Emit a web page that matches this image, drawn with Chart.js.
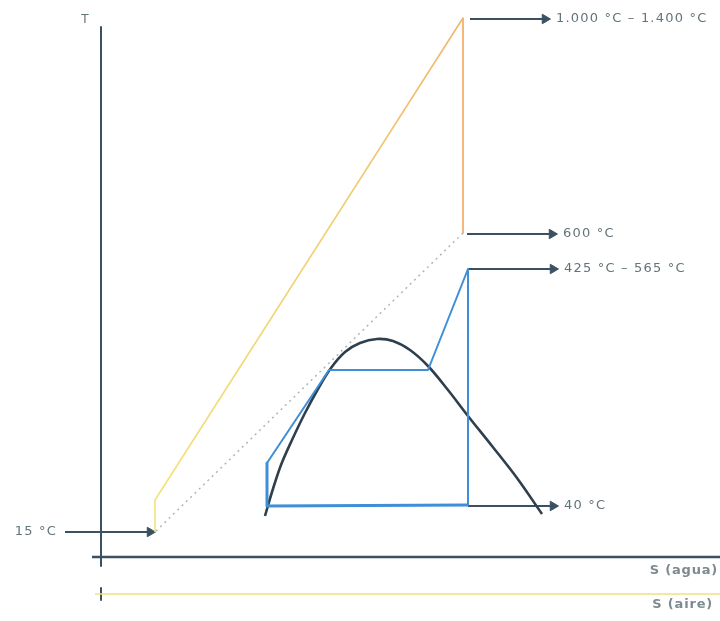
<!DOCTYPE html>
<html>
<head>
<meta charset="utf-8">
<title>Diagrama T-S ciclo combinado</title>
<script src="https://cdn.jsdelivr.net/npm/chart.js@4/dist/chart.umd.min.js"></script>
<style>
  body { margin: 0; background: #fff; }
  canvas { display: block; }
</style>
</head>
<body>
<canvas id="grafico" width="720" height="621"></canvas>
<script>
// ====== DIAGRAMA T-S (ciclo combinado gas + vapor) ======

// Ciclo de aire (Brayton): s, T
const cicloAire = [[54, 25], [54, 57], [362, 539]];
const expansionAire = [[362, 539], [362, 324]];
const retornoAire = [[362, 324], [54, 25]];

// Ciclo de agua (Rankine)
const cicloAgua = [[166, 94], [228, 187], [327, 187], [367, 288], [367, 52]];
const fondoAgua = [[166, 94], [166, 51], [367, 52]];

// Campana de saturación
const campana = [[164, 41], [171, 65], [180, 92], [191, 117], [204, 144], [217, 168], [230, 189],
  [244, 205], [259, 214], [276, 218], [292, 216], [309, 207], [327, 191], [347, 167], [367, 141],
  [391, 111], [416, 79], [441, 43]];

// Flechas de temperatura: inicio s, fin s, T
const flechas = [[369, 444, 538], [366, 451, 323], [367, 452, 288], [367, 452, 51], [-36, 49, 25]];
const etiquetasTemp = ["1.000 °C – 1.400 °C", "600 °C", "425 °C – 565 °C", "40 °C", "15 °C"];

// Ejes
const ejeT = [[0, 530], [0, -9]];
const ejeSagua = [[-9, 0], [619, 0]];
const ejeSaire = [[-6, -37], [619, -37]];
const marcaSaire = [[0, -31], [0, -43]];

const pts = (arr) => arr.map(([x, y]) => ({ x, y }));
const oscuro = "#3b5162";
const azul = "#3f8fd8";

function serie(data, color, ancho, extra) {
  return Object.assign({
    data: pts(data),
    showLine: true,
    borderColor: color,
    borderWidth: ancho,
    pointRadius: 0,
    borderJoinStyle: "round",
    fill: false,
  }, extra || {});
}

// Degradado amarillo -> naranja de la compresión/combustión
function degradadoAire(ctx) {
  const chart = ctx.chart;
  if (!chart.chartArea) return "#f0d070";
  const y = chart.scales.y;
  const g = chart.ctx.createLinearGradient(0, y.getPixelForValue(25), 0, y.getPixelForValue(539));
  g.addColorStop(0, "#f2e479");
  g.addColorStop(0.6, "#f1cf74");
  g.addColorStop(1, "#f1b46c");
  return g;
}

const datasets = [
  serie(ejeT, oscuro, 2),
  serie(ejeSagua, oscuro, 2.5),
  serie(ejeSaire, "#efe07e", 1.5),
  serie(marcaSaire, oscuro, 2),
  serie(retornoAire, "#b4b4b4", 1.5, { borderDash: [2, 4] }),
  serie(cicloAire, degradadoAire, 1.6),
  serie(expansionAire, "#f3a75a", 1.6),
  serie(cicloAgua, azul, 2),
  serie(fondoAgua, azul, 3),
  serie(campana, "#2e3f4d", 2.6, { tension: 0.35 }),
];

// Cada flecha: línea con punta triangular al final
flechas.forEach(([s0, s1, t]) => {
  datasets.push(serie([[s0, t], [s1, t]], oscuro, 2.2, {
    pointStyle: "triangle",
    pointRotation: 90,
    pointRadius: [0, 5.5],
    pointBackgroundColor: oscuro,
    pointBorderColor: oscuro,
    pointBorderWidth: 1,
  }));
});

// Textos: temperaturas y nombres de los ejes
const textos = {
  id: "textos",
  afterDatasetsDraw(chart) {
    const { ctx, scales } = chart;
    const px = (v) => scales.x.getPixelForValue(v);
    const py = (v) => scales.y.getPixelForValue(v);
    ctx.save();
    ctx.fillStyle = "#637479";
    ctx.font = "13px 'DejaVu Sans'";
    ctx.letterSpacing = "1.2px";
    ctx.textBaseline = "middle";
    flechas.forEach(([s0, s1, t], i) => {
      if (s0 < 0) {
        ctx.textAlign = "right";
        ctx.fillText(etiquetasTemp[i], px(s0) - 8, py(t));
      } else {
        ctx.textAlign = "left";
        ctx.fillText(etiquetasTemp[i], px(s1) + 11, py(t));
      }
    });
    ctx.letterSpacing = "0px";
    ctx.font = "12px 'DejaVu Sans'";
    ctx.textAlign = "center";
    ctx.fillText("T", px(-16), py(537));
    ctx.fillStyle = "#7d8a8f";
    ctx.font = "bold 13px 'DejaVu Sans'";
    ctx.letterSpacing = "0.8px";
    ctx.textAlign = "right";
    ctx.fillText("S (agua)", px(617), py(-14));
    ctx.fillText("S (aire)", px(612), py(-48));
    ctx.restore();
  },
};

new Chart(document.getElementById("grafico"), {
  type: "scatter",
  data: { datasets },
  options: {
    responsive: false,
    animation: false,
    devicePixelRatio: 1,
    layout: { padding: 0, autoPadding: false },
    scales: {
      x: { type: "linear", min: -101, max: 619, display: false },
      y: { type: "linear", min: -64, max: 557, display: false },
    },
    plugins: { legend: { display: false }, tooltip: { enabled: false } },
  },
  plugins: [textos],
});
</script>
</body>
</html>
